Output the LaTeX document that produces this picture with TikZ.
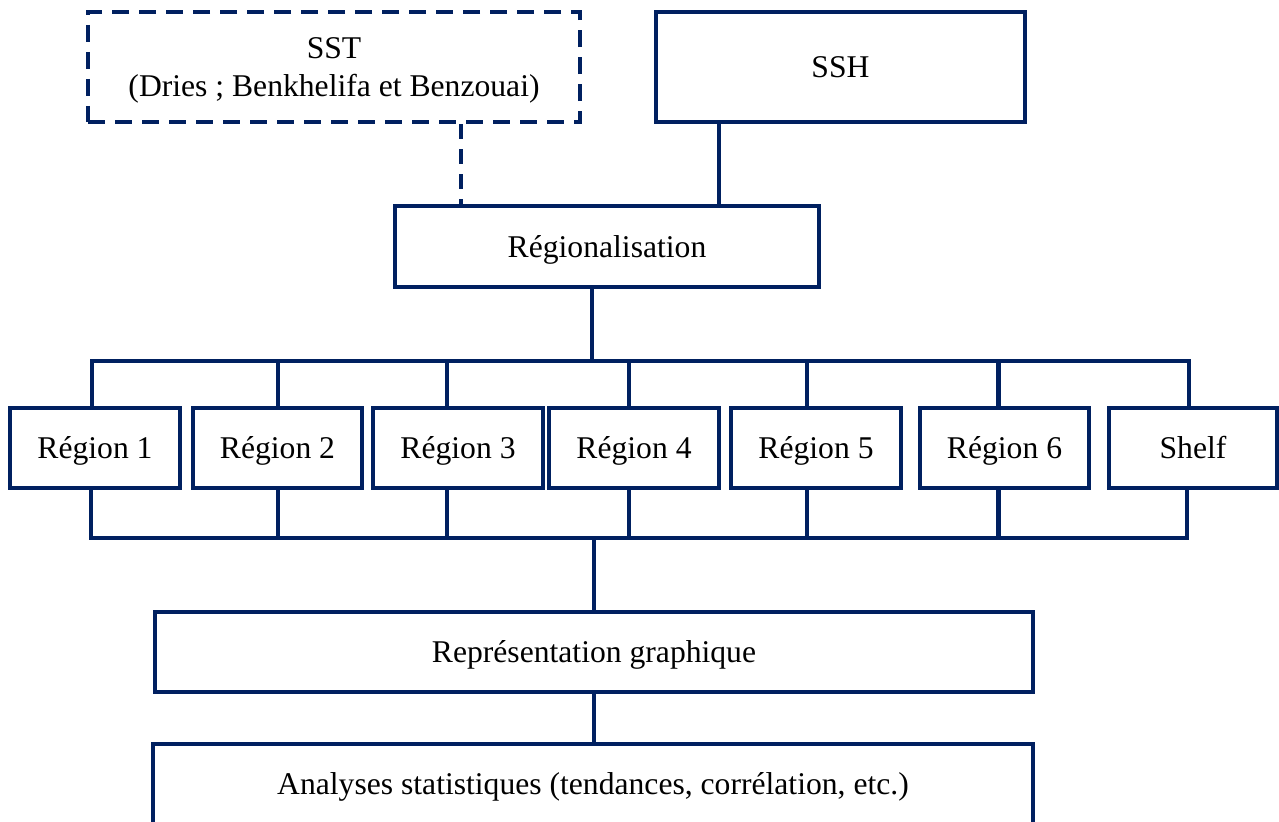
\documentclass[tikz,border=0pt]{standalone}
\usepackage{fontspec}
\setmainfont{Liberation Serif}
\usepackage{xcolor}
\usepackage{tikz}
\definecolor{navy}{RGB}{0,32,96}

\tikzset{
    box/.style={draw=navy, line width=2.4pt, rectangle, inner sep=0pt,
        align=center, font=\fontsize{18}{22}\selectfont,
        text height=16pt, text depth=3.6pt},
    dbox/.style={draw=navy, line width=2.4pt, rectangle, inner sep=0pt,
        align=center, font=\fontsize{18}{22}\selectfont,
        text depth=0pt, dash pattern=on 0.34cm off 0.2cm},
    link/.style={draw=navy, line width=2.4pt},
    dlink/.style={link, dash pattern=on 0.3cm off 0.2cm}
}

\begin{document}
\begin{tikzpicture}
    \useasboundingbox (0,0) rectangle (25.58,-16.42);

    % Sources
    \node[dbox, minimum width=9.84cm, minimum height=2.2cm] (sst) at (6.68,-1.34)
        {SST\\(Dries ; Benkhelifa et Benzouai)};
    \node[box, minimum width=7.38cm, minimum height=2.2cm] (ssh) at (16.81,-1.34) {SSH};
    \node[box, minimum width=8.48cm, minimum height=1.62cm] (reg) at (12.14,-4.93) {Régionalisation};

    % Regions
    \node[box, minimum width=3.4cm, minimum height=1.6cm] (r1) at (1.90,-8.96) {Région 1};
    \node[box, minimum width=3.38cm, minimum height=1.6cm] (r2) at (5.55,-8.96) {Région 2};
    \node[box, minimum width=3.4cm, minimum height=1.6cm] (r3) at (9.16,-8.96) {Région 3};
    \node[box, minimum width=3.4cm, minimum height=1.6cm] (r4) at (12.68,-8.96) {Région 4};
    \node[box, minimum width=3.4cm, minimum height=1.6cm] (r5) at (16.32,-8.96) {Région 5};
    \node[box, minimum width=3.38cm, minimum height=1.6cm] (r6) at (20.09,-8.96) {Région 6};
    \node[box, minimum width=3.36cm, minimum height=1.6cm] (shelf) at (23.86,-8.96) {Shelf};

    % Outputs
    \node[box, minimum width=17.56cm, minimum height=1.6cm] (rep) at (11.88,-13.04) {Représentation graphique};
    \node[box, minimum width=17.6cm, minimum height=1.6cm] (ana) at (11.86,-15.68)
        {Analyses statistiques (tendances, corrélation, etc.)};

    % Bus levels
    \coordinate (tb) at (0,-7.22);
    \coordinate (bb) at (0,-10.76);

    % Inputs to regionalisation
    \coordinate (sstdrop) at ([xshift=2.54cm]sst.south);
    \draw[dlink] (sstdrop) -- (sstdrop |- reg.north);
    \coordinate (sshdrop) at ([xshift=-2.43cm]ssh.south);
    \draw[link] (sshdrop) -- (sshdrop |- reg.north);

    % Regionalisation to top bus
    \coordinate (regdrop) at ([xshift=-0.30cm]reg.south);
    \draw[link] (regdrop) -- (regdrop |- tb);

    % Buses above and below the regions
    \draw[link] ([xshift=-0.06cm]r1.north) -- ([xshift=-0.06cm]r1.north |- tb)
        -- ([xshift=-0.08cm]shelf.north |- tb) -- ([xshift=-0.08cm]shelf.north);
    \draw[link] ([xshift=-0.08cm]r1.south) -- ([xshift=-0.08cm]r1.south |- bb)
        -- ([xshift=-0.12cm]shelf.south |- bb) -- ([xshift=-0.12cm]shelf.south);
    \foreach \n/\dx in {r2/0.01, r3/-0.22, r4/-0.10, r5/-0.18, r6/-0.12}{
        \draw[link] ([xshift=\dx cm]\n.north) -- ([xshift=\dx cm]\n.north |- tb);
        \draw[link] ([xshift=\dx cm]\n.south) -- ([xshift=\dx cm]\n.south |- bb);
    }

    % Bottom chain
    \draw[link] (rep.north |- bb) -- (rep.north);
    \draw[link] (rep.south) -- (rep.south |- ana.north);
\end{tikzpicture}
\end{document}
